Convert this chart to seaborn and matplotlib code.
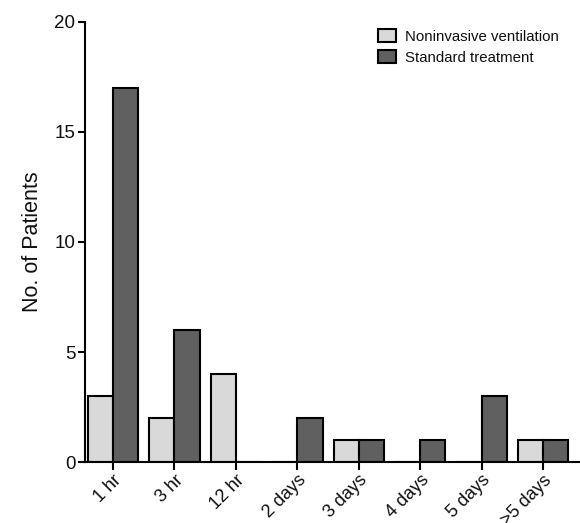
import matplotlib
matplotlib.use("Agg")
import matplotlib.pyplot as plt
import seaborn as sns
import pandas as pd

categories = ["1 hr", "3 hr", "12 hr", "2 days", "3 days", "4 days", "5 days", ">5 days"]
niv = [3, 2, 4, 0, 1, 0, 0, 1]
standard = [17, 6, 0, 2, 1, 1, 3, 1]
series_names = ["Noninvasive ventilation", "Standard treatment"]
colors = ["#d9d9d9", "#606060"]

df = pd.DataFrame({
    "Time": categories * 2,
    "Patients": niv + standard,
    "Group": [series_names[0]] * len(categories) + [series_names[1]] * len(categories),
})

sns.set_theme(style="ticks")
plt.rcParams["font.family"] = ["Liberation Sans", "DejaVu Sans"]
plt.rcParams["text.color"] = "#111111"
plt.rcParams["xtick.labelcolor"] = "#111111"
plt.rcParams["ytick.labelcolor"] = "#111111"
plt.rcParams["axes.labelcolor"] = "#111111"

fig = plt.figure(figsize=(5.8, 5.23), dpi=100)
ax = fig.add_axes([0.1466, 0.1166, 0.8534, 0.8414])

sns.barplot(data=df, x="Time", y="Patients", hue="Group", order=categories,
            hue_order=series_names, palette=colors, width=0.82, gap=0,
            edgecolor="black", linewidth=1.5, saturation=1, ax=ax)

ax.set_xlim(-0.455, 7.6)
ax.set_ylim(0, 20)
ax.set_yticks([0, 5, 10, 15, 20])
ax.set_xlabel("")
ax.set_ylabel("No. of Patients", fontsize=15.5, labelpad=8)
for side in ["top", "right"]:
    ax.spines[side].set_visible(False)
for side in ["left", "bottom"]:
    ax.spines[side].set_linewidth(1.5)
    ax.spines[side].set_color("black")
ax.tick_params(axis="both", width=1.5, length=5, color="black", labelsize=13.5, pad=2)
ax.tick_params(axis="x", length=6, labelsize=13, pad=1)
plt.setp(ax.get_xticklabels(), rotation=45, ha="right", rotation_mode="anchor")

leg = ax.legend(loc="upper right", bbox_to_anchor=(0.985, 1.015), frameon=False,
                fontsize=10.8, handlelength=1.2, handleheight=1.0, handletextpad=0.6,
                labelspacing=0.4)
for h in leg.legend_handles:
    h.set_edgecolor("black")
    h.set_linewidth(1.5)

fig.savefig("out.png", dpi=100)
